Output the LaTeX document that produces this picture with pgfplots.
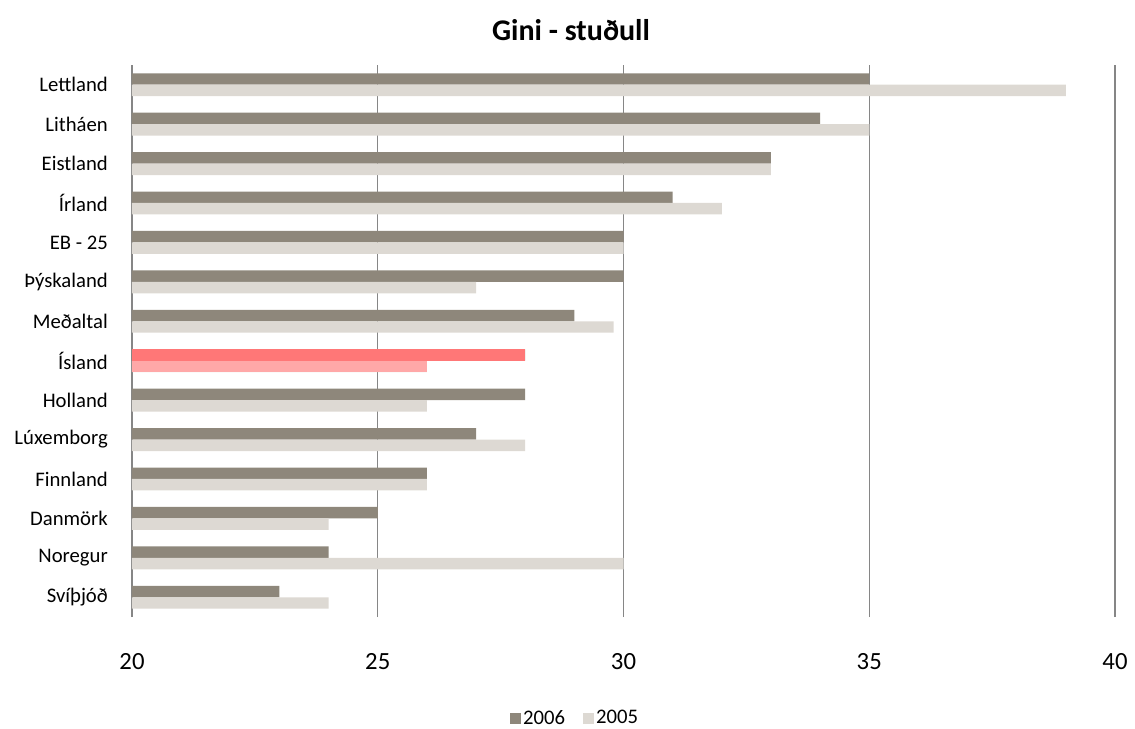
\documentclass[border=0pt]{standalone}
\usepackage{pgfplots}
\pgfplotsset{compat=1.18}
\usepackage{fontspec}
\setmainfont{Carlito}
\definecolor{darkbar}{RGB}{142,135,123}
\definecolor{lightbar}{RGB}{221,217,211}
\definecolor{redbar}{RGB}{255,119,119}
\definecolor{pinkbar}{RGB}{255,168,168}
\definecolor{gridgray}{RGB}{134,134,134}
\begin{document}
\begin{tikzpicture}
\begin{axis}[
  scale only axis,
  width=983bp, height=552bp,
  xmin=20, xmax=40,
  ymin=-0.5, ymax=13.5,
  clip=false,
  xtick={20,25,30,35,40},
  ytick={0,...,13},
  yticklabels={Svíþjóð,Noregur,Danmörk,Finnland,Lúxemborg,Holland,Ísland,Meðaltal,Þýskaland,EB - 25,Írland,Eistland,Litháen,Lettland},
  axis line style={draw=none},
  major tick length=0pt,
  xmajorgrids,
  major grid style={gridgray, line width=1.2bp},
  /pgf/number format/assume math mode=true,
  xticklabel style={font=\fontsize{24.7bp}{28bp}\selectfont, inner sep=0pt, yshift=-36bp},
  yticklabel style={font=\fontsize{20.7bp}{24bp}\selectfont, inner sep=0pt, xshift=-24bp},
  xbar, bar width=0.29,
  legend style={at={(0.4507,-0.183)}, anchor=center, draw=none, legend columns=2,
    font=\fontsize{20.7bp}{24bp}\selectfont,
    /tikz/every even column/.append style={column sep=16bp}},
  legend image code/.code={\fill[#1] (0bp,-5.5bp) rectangle (11bp,5.5bp);},
]
\addplot[fill=darkbar, draw=none, bar shift=0.145] coordinates {
(23,0) (24,1) (25,2) (26,3) (27,4) (28,5) (28,6) (29,7) (30,8) (30,9) (31,10) (33,11) (34,12) (35,13)};
\addlegendentry{2006}
\addplot[fill=lightbar, draw=none, bar shift=-0.145] coordinates {
(24,0) (30,1) (24,2) (26,3) (28,4) (26,5) (26,6) (29.8,7) (27,8) (30,9) (32,10) (33,11) (35,12) (39,13)};
\addlegendentry{2005}
\addplot[fill=redbar, draw=none, bar shift=0.145, forget plot] coordinates {(28,6)};
\addplot[fill=pinkbar, draw=none, bar shift=-0.145, forget plot] coordinates {(26,6)};
\node[font=\fontsize{30bp}{34bp}\selectfont\bfseries] at (axis description cs:0.4466,1.063) {Gini - stuðull};
\end{axis}
\pgfresetboundingbox
\path[use as bounding box] ([xshift=-132bp,yshift=-112bp]current axis.south west) rectangle ([xshift=1003bp,yshift=617bp]current axis.south west);
\end{tikzpicture}
\end{document}
